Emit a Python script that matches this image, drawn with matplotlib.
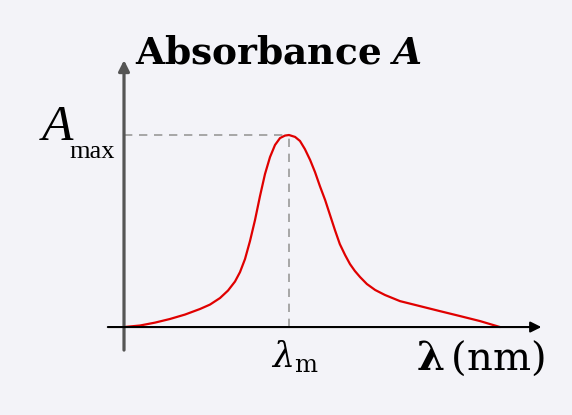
import numpy as np
import matplotlib.pyplot as plt

plt.rcParams['mathtext.fontset'] = 'dejavuserif'

# absorption spectrum (arbitrary wavelength units, A / A_max)
lam = [0, 4.26, 8.24, 12.23, 16.22, 20.21, 22.87, 25.53, 27.66, 29.52, 30.85,
       32.18, 33.51, 34.84, 36.17, 37.50, 38.83, 40.16, 41.49, 42.82, 43.88,
       45.5, 46.8, 48.1, 49.5, 50.8, 52.1, 53.5, 54.8, 56.1, 57.4, 58.8, 60.1,
       61.4, 62.8, 64.6, 66.8, 69.4, 73.4, 78.7, 84.0, 89.4, 94.7, 100]
absb = [0, 0.008, 0.023, 0.042, 0.065, 0.094, 0.117, 0.151, 0.190, 0.237, 0.286,
        0.354, 0.448, 0.557, 0.682, 0.797, 0.885, 0.948, 0.984, 0.997, 1.0,
        0.99, 0.969, 0.927, 0.870, 0.807, 0.734, 0.661, 0.583, 0.505, 0.432,
        0.375, 0.328, 0.292, 0.260, 0.224, 0.193, 0.167, 0.135, 0.109, 0.083,
        0.057, 0.031, 0]
lam_m = 43.88
a_max = 1.0

bg = '#f3f3f8'
fig = plt.figure(figsize=(5.72, 4.15), dpi=100, facecolor=bg)
ax = fig.add_axes([0, 0, 1, 1], facecolor=bg)
ax.set_xlim(-32.98, 119.15)
ax.set_ylim(-0.458, 1.703)
ax.axis('off')

# axes arrows
ax.annotate('', xy=(0, 1.39), xytext=(0, -0.12),
            arrowprops=dict(arrowstyle='-|>', color='#555555', lw=2.3,
                            mutation_scale=16, shrinkA=0, shrinkB=0))
ax.annotate('', xy=(111, 0), xytext=(-4.3, 0),
            arrowprops=dict(arrowstyle='-|>', color='black', lw=1.5,
                            mutation_scale=16, shrinkA=0, shrinkB=0))

# guide lines
ax.plot([0, lam_m], [a_max, a_max], color='#999999', lw=1.2, ls=(0, (5, 4)))
ax.plot([lam_m, lam_m], [0, a_max], color='#999999', lw=1.2, ls=(0, (5, 4)))

ax.plot(lam, absb, color='#e00000', lw=1.6, solid_capstyle='round',
        solid_joinstyle='round')

ax.text(2.9, 1.37, r'$\mathbf{Absorbance}\ \boldsymbol{A}$', fontsize=27,
        ha='left', va='baseline')
ax.text(-13.6, 0.975, 'A', family='Liberation Serif', style='italic', fontsize=37,
        ha='right', va='baseline')
ax.text(-14.5, 0.88, 'max', family='Liberation Serif', fontsize=19,
        ha='left', va='baseline')
ax.text(lam_m + 1.5, -0.06, r'$\lambda_{\mathrm{m}}$', fontsize=25, ha='center', va='top')
ax.text(112, -0.06, r'$\boldsymbol{\lambda}\,(\mathrm{nm})$', fontsize=29,
        ha='right', va='top')

fig.savefig('out.png', dpi=100, facecolor=bg)
